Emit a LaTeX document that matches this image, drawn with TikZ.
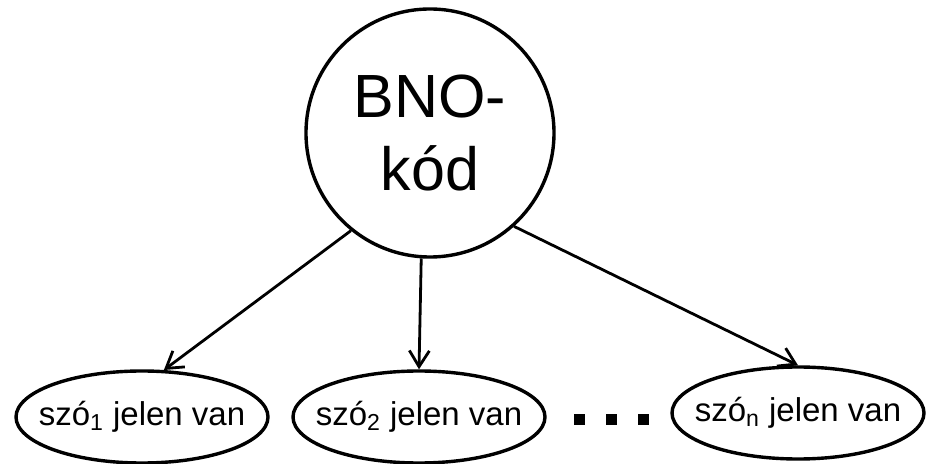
\documentclass[tikz,border=0pt]{standalone}
\usepackage{fontspec}
\setmainfont{Liberation Sans}
\usetikzlibrary{arrows.meta,shapes.geometric}

\begin{document}
\begin{tikzpicture}[x=0.5pt,y=-0.5pt,
  kod/.style={circle, draw=black, line width=1.7pt, minimum size=124pt, inner sep=0pt, align=center, font=\fontsize{30.5}{36.5}\selectfont},
  szo/.style={ellipse, draw=black, line width=1.7pt, minimum width=126pt, minimum height=46pt, inner sep=0pt, font=\fontsize{16.5}{19}\selectfont},
  nyil/.style={line width=1.4pt, -{Straight Barb[length=8pt,width=10pt]}},
  pont/.style={rectangle, fill=black, minimum size=5.5pt, inner sep=0pt}]
\useasboundingbox (0,0) rectangle (926,464);
% felso kor
\node [kod] (bno) at (430,133) {BNO-\\kód};
% also ellipszisek
\node [szo] (szo1) at (142,417) {\makebox[0pt]{szó\textsubscript{1} jelen van}};
\node [szo] (szo2) at (419,417) {\makebox[0pt]{szó\textsubscript{2} jelen van}};
\node [szo] (szon) at (798,413) {\makebox[0pt]{szó\textsubscript{n} jelen van}};
% pontok
\node [pont] (p1) at (579,420) {};
\node [pont] (p2) at (611,420) {};
\node [pont] (p3) at (643,420) {};
% nyilak
\draw [nyil] (bno.231) -- (szo1.65);
\draw [nyil] (bno.266) -- (szo2.north);
\draw [nyil] (bno.312) -- (szon.north);
\end{tikzpicture}
\end{document}
